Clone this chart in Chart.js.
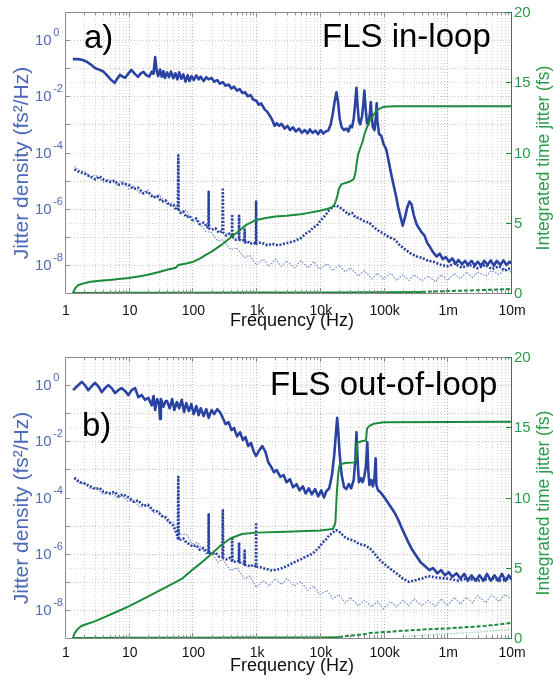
<!DOCTYPE html>
<html><head><meta charset="utf-8">
<script src="https://cdn.jsdelivr.net/npm/chart.js@4.4.1/dist/chart.umd.min.js"></script>
<style>
html,body{margin:0;padding:0;background:#fff;width:553px;height:679px;overflow:hidden}
canvas{position:absolute;left:0}
#ca{top:0}
#cb{top:340px}
</style></head><body>
<canvas id="ca" width="553" height="340"></canvas>
<canvas id="cb" width="553" height="339"></canvas>
<script>
// ---------- axis ticks ----------
const xTickValues = [1, 10, 100, 1e3, 1e4, 1e5, 1e6, 1e7];
const xTickLabels = ['1', '10', '100', '1k', '10k', '100k', '1m', '10m'];
const yTickExponents = [0, -2, -4, -6, -8];
const y2TickValues = [0, 5, 10, 15, 20];

// ---------- panel a) FLS in-loop ----------
const aUpperHz = [1.33,1.6,1.85,2.2,2.6,3.0,3.5,4.0,4.5,5.2,
 6.0,6.6,7.3,8.0,8.8,9.8,11,12.5,14,15.5,
 17,19,21,23,24.5,26,27.5,29,31,33,
 35,37,40,43,46,50,54,58,62,67,
 72,78,84,90,97,105,115,125,135,150,
 165,180,200,220,245,270,300,330,370,410,
 450,500,550,610,670,740,820,900,1000,1100,
 1200,1350,1500,1650,1800,1950,2100,2300,2500,2800,
 3100,3400,3800,4200,4700,5200,5800,6400,7000,7700,
 8500,9400,10300,11300,12300,13500,14800,16000,17000,18200,
 19300,20500,22000,24000,26000,28000,30000,32000,34000,36000,
 37500,39000,41000,43000,46000,48500,50000,52000,55000,58000,
 61000,63000,65000,68000,72000,76000,78000,80000,85000,92000,
 1e5,1.1e5,1.2e5,1.3e5,1.4e5,1.55e5,1.7e5,1.85e5,2e5,2.15e5,
 2.35e5,2.55e5,2.75e5,3e5,3.3e5,3.6e5,4e5,4.4e5,4.8e5,5.3e5,
 6e5,6.8e5,7.6e5,8.5e5,9.5e5,1.06e6,1.2e6,1.35e6,1.5e6,1.7e6,
 1.9e6,2.1e6,2.4e6,2.7e6,3e6,3.4e6,3.8e6,4.3e6,4.8e6,5.4e6,
 6e6,6.8e6,7.6e6,8.5e6,9.5e6,1e7];
const aUpperPsd = [2.1e-1,2.1e-1,2.0e-1,1.7e-1,1.3e-1,1.0e-1,8.7e-2,7.6e-2,5.8e-2,4.0e-2,
 3.0e-2,4.2e-2,5.8e-2,5.0e-2,4.6e-2,6.3e-2,8.7e-2,6.3e-2,4.9e-2,6.6e-2,
 7.4e-2,5.6e-2,5.0e-2,7.6e-2,6.3e-2,2.5e-1,7.9e-2,5.2e-2,8.9e-2,5.0e-2,
 7.9e-2,4.5e-2,7.1e-2,4.8e-2,7.6e-2,4.4e-2,6.6e-2,4.0e-2,7.1e-2,4.2e-2,
 6.0e-2,3.3e-2,5.6e-2,3.5e-2,5.2e-2,3.8e-2,5.6e-2,4.0e-2,5.0e-2,3.5e-2,
 4.8e-2,4.0e-2,4.5e-2,3.3e-2,3.8e-2,2.8e-2,3.2e-2,2.4e-2,2.6e-2,1.9e-2,
 2.2e-2,1.6e-2,1.8e-2,1.3e-2,1.4e-2,1.0e-2,1.1e-2,7.6e-3,7.1e-3,5.0e-3,
 5.6e-3,3.5e-3,2.8e-3,2.0e-3,1.4e-3,8.9e-4,1.1e-3,8.9e-4,1.05e-3,7.1e-4,
 8.9e-4,6.3e-4,7.9e-4,5.6e-4,7.1e-4,5.0e-4,6.3e-4,4.8e-4,6.6e-4,5.0e-4,
 6.0e-4,4.5e-4,6.3e-4,4.7e-4,5.6e-4,6.0e-4,1.0e-3,2.5e-3,6.3e-3,1.4e-2,
 6.3e-3,1.6e-3,7.9e-4,6.3e-4,7.1e-4,5.6e-4,8.9e-4,7.9e-4,1.6e-3,6.3e-3,
 2.0e-2,5.0e-3,1.3e-3,1.0e-3,2.0e-3,6.3e-3,1.6e-2,4.0e-3,1.1e-3,1.0e-3,
 2.5e-3,6.3e-3,2.0e-3,7.9e-4,6.3e-4,2.0e-3,5.6e-3,1.3e-3,4.5e-4,4.0e-4,
 2.0e-4,1.3e-4,5.0e-5,2.0e-5,8.9e-6,3.2e-6,1.1e-6,5.0e-7,2.5e-7,4.5e-7,
 1.1e-6,1.8e-6,1.4e-6,5.6e-7,2.8e-7,2.0e-7,1.4e-7,1.1e-7,6.3e-8,4.5e-8,
 2.8e-8,2.0e-8,2.5e-8,1.6e-8,1.9e-8,1.3e-8,1.7e-8,1.1e-8,1.5e-8,1.05e-8,
 1.4e-8,1.0e-8,1.4e-8,9.5e-9,1.3e-8,9.3e-9,1.4e-8,1.0e-8,1.45e-8,9.5e-9,
 1.4e-8,1.0e-8,1.45e-8,1.0e-8,1.3e-8,1.1e-8];

const aMidHz = [1.4,1.7,2,2.5,3,3.5,4,5,6,7,
 8,10,12,14,17,20,24,28,33,38,
 44,50,56,59,60,61,65,72,80,90,
 100,115,130,150,170,178,180,182,200,230,
 260,295,300,305,340,380,415,420,425,480,
 535,540,545,600,655,660,665,730,800,900,
 990,1000,1010,1200,1500,1800,2200,2700,3300,4000,
 5000,6000,7000,8000,9000,10000,11000,12500,14000,15500,
 17500,19500,22000,25000,28000,32000,36000,42000,50000,60000,
 70000,85000,1e5,1.2e5,1.5e5,1.8e5,2.2e5,2.7e5,3.3e5,4e5,
 5e5,6e5,8e5,1e6,1.3e6,1.7e6,2.2e6,3e6,4e6,5e6,
 6.5e6,8e6,1e7];
const aMidPsd = [2.5e-5,2.0e-5,1.8e-5,1.4e-5,1.1e-5,1.4e-5,1.1e-5,8.9e-6,1.0e-5,7.1e-6,
 7.9e-6,7.1e-6,5.0e-6,5.6e-6,3.5e-6,4.0e-6,2.5e-6,2.8e-6,1.8e-6,2.0e-6,
 1.3e-6,1.4e-6,8.9e-7,1.0e-6,7.9e-5,8.9e-7,7.1e-7,7.9e-7,5.0e-7,5.6e-7,
 4.0e-7,4.5e-7,2.8e-7,3.2e-7,2.2e-7,2.5e-7,4.0e-6,2.0e-7,1.8e-7,2.0e-7,
 1.4e-7,1.6e-7,5.6e-6,1.4e-7,1.1e-7,1.3e-7,1.0e-7,6.3e-7,1.0e-7,7.9e-8,
 8.9e-8,5.6e-7,7.9e-8,7.1e-8,7.9e-8,1.8e-7,6.3e-8,7.1e-8,5.6e-8,6.3e-8,
 5.6e-8,1.8e-6,5.6e-8,6.3e-8,5.0e-8,5.6e-8,5.0e-8,5.6e-8,6.3e-8,7.1e-8,
 8.9e-8,1.3e-7,1.6e-7,2.2e-7,2.5e-7,3.5e-7,4.5e-7,6.3e-7,8.9e-7,1.1e-6,
 1.3e-6,1.2e-6,1.0e-6,7.9e-7,6.3e-7,7.1e-7,5.0e-7,4.5e-7,3.5e-7,3.2e-7,
 2.2e-7,1.6e-7,1.3e-7,1.0e-7,7.9e-8,5.0e-8,3.5e-8,2.5e-8,2.0e-8,1.8e-8,
 1.4e-8,1.3e-8,1.0e-8,8.9e-9,1.1e-8,7.9e-9,1.0e-8,7.6e-9,1.0e-8,7.1e-9,
 8.9e-9,6.3e-9,7.9e-9];

const aFloorHz = [1.4,1.7,2,2.5,3,4,5,6.5,8,10,
 12,15,20,25,30,40,50,65,80,100,
 120,160,200,250,300,400,500,650,800,1000,
 1300,1600,2000,2500,3000,4000,5000,6500,8000,10000,
 13000,16000,20000,25000,30000,40000,50000,65000,80000,1e5,
 1.3e5,1.6e5,2e5,2.5e5,3e5,4e5,5e5,6.5e5,8e5,1e6,
 1.3e6,1.6e6,2e6,2.5e6,3e6,4e6,5e6,6.5e6,8e6,1e7];
const aFloorPsd = [3.2e-5,2.2e-5,2.2e-5,1.3e-5,1.6e-5,8.9e-6,1.1e-5,7.1e-6,1.0e-5,5.0e-6,
 6.3e-6,3.5e-6,4.5e-6,2.5e-6,3.2e-6,1.4e-6,1.6e-6,7.9e-7,8.9e-7,3.5e-7,
 4.0e-7,1.6e-7,1.4e-7,7.1e-8,7.9e-8,3.5e-8,4.0e-8,1.8e-8,2.2e-8,1.0e-8,
 1.6e-8,8.9e-9,1.6e-8,8.9e-9,1.4e-8,7.9e-9,1.4e-8,7.9e-9,1.3e-8,7.1e-9,
 1.1e-8,6.3e-9,1.0e-8,5.6e-9,7.9e-9,4.0e-9,6.3e-9,3.2e-9,5.0e-9,3.2e-9,
 5.0e-9,2.8e-9,4.5e-9,2.8e-9,4.5e-9,2.8e-9,4.0e-9,2.5e-9,4.5e-9,2.8e-9,
 5.0e-9,3.2e-9,5.6e-9,3.5e-9,5.6e-9,4.0e-9,6.3e-9,4.5e-9,7.1e-9,5.6e-9];

const aIntHz = [1.33,1.45,1.6,2,2.5,3.5,5,7,10,15,
 20,30,40,55,60,80,100,130,160,200,
 250,300,400,500,600,700,850,1000,1500,2000,
 3000,5000,7000,10000,13000,15500,17000,18000,19000,20000,
 22000,26000,30000,34000,36000,38000,40000,43000,47000,50000,
 55000,60000,68000,75000,85000,1e5,1.5e5,1e7];
const aIntFs = [0,0.35,0.55,0.7,0.8,0.87,0.93,1.0,1.07,1.2,
 1.3,1.5,1.65,1.8,2.0,2.1,2.2,2.45,2.7,2.95,
 3.25,3.5,3.95,4.3,4.6,4.85,5.05,5.2,5.35,5.45,
 5.5,5.6,5.72,5.85,5.98,6.1,6.3,6.6,7.0,7.45,
 7.75,7.85,7.95,8.1,8.5,9.3,9.9,10.3,10.8,11.3,
 11.8,12.25,12.6,12.9,13.1,13.25,13.3,13.3];

const aLowHz = [1.33,10,100,1000,1e4,1e5,4e5];
const aLowFs = [0,0.01,0.02,0.03,0.04,0.06,0.08];
const aLowDashHz = [4e5,1e6,3e6,1e7];
const aLowDashFs = [0.08,0.14,0.2,0.28];

// ---------- panel b) FLS out-of-loop ----------
const bUpperHz = [1.34,1.55,1.83,2.06,2.32,2.62,2.96,3.33,3.77,4.25,
 4.78,5.41,6.1,6.87,7.76,8.75,9.87,11.1,12.6,14.2,
 16,18,20.3,23,24.5,26,28,30,31,32,
 35,38,40,44,48,52,57,62,68,74,
 80,88,96,105,115,125,135,150,165,180,
 200,220,245,270,300,330,370,410,450,500,
 560,620,680,750,830,920,1000,1100,1250,1400,
 1550,1700,1900,2100,2400,2700,3000,3400,3800,4300,
 4800,5400,6000,6700,7500,8400,9400,10500,11600,12700,
 14000,15500,16800,17800,18700,19500,20500,22000,24000,26000,
 28500,31000,34000,36000,37500,39000,41000,44000,47000,50000,
 53000,55500,57500,60000,64000,68000,72000,75000,77000,82000,
 90000,1e5,1.15e5,1.3e5,1.5e5,1.7e5,1.9e5,2.1e5,2.4e5,2.8e5,
 3.3e5,3.8e5,4.5e5,5.2e5,6e5,7e5,8e5,9.2e5,1.05e6,1.2e6,
 1.4e6,1.6e6,1.85e6,2.1e6,2.4e6,2.8e6,3.2e6,3.7e6,4.2e6,4.8e6,
 5.5e6,6.3e6,7.2e6,8.2e6,9.2e6,1e7];
const bUpperPsd = [6.6e-1,9.1e-1,1.3,1.0,6.6e-1,9.1e-1,1.2,9.1e-1,5.6e-1,7.8e-1,
 1.0,7.8e-1,5.2e-1,6.6e-1,7.8e-1,6.2e-1,4.4e-1,6.6e-1,7.8e-1,3.7e-1,
 4.4e-1,3.0e-1,3.5e-1,1.9e-1,4.1e-1,1.3e-1,3.2e-1,2.1e-1,6.3e-2,3.2e-1,
 1.7e-1,2.7e-1,2.7e-1,1.5e-1,3.2e-1,1.3e-1,2.5e-1,1.5e-1,3.0e-1,1.1e-1,
 2.3e-1,1.2e-1,2.1e-1,9.3e-2,1.8e-1,8.5e-2,1.5e-1,7.9e-2,1.4e-1,6.8e-2,
 1.3e-1,9.3e-2,1.4e-1,1.1e-1,6.8e-2,4.1e-2,4.8e-2,2.5e-2,3.0e-2,1.5e-2,
 2.1e-2,1.1e-2,1.4e-2,6.8e-3,8.7e-3,4.2e-3,3.0e-3,4.5e-3,6.8e-3,4.2e-3,
 1.8e-3,1.3e-3,7.9e-4,9.5e-4,5.4e-4,6.3e-4,3.5e-4,4.5e-4,2.3e-4,3.0e-4,
 1.8e-4,2.5e-4,1.4e-4,2.1e-4,1.3e-4,2.0e-4,1.1e-4,1.8e-4,1.0e-4,1.7e-4,
 2.1e-4,6.3e-4,3.2e-3,1.7e-2,6.8e-2,2.1e-2,3.2e-3,6.3e-4,2.3e-4,2.0e-4,
 3.0e-4,2.1e-4,4.2e-4,2.1e-3,2.1e-2,2.5e-3,3.5e-4,4.9e-4,3.5e-4,5.8e-4,
 1.4e-3,9.3e-3,9.5e-4,2.8e-4,4.2e-4,2.5e-4,4.9e-4,2.5e-3,2.8e-4,1.8e-4,
 1.5e-4,1.1e-4,6.9e-5,4.6e-5,2.8e-5,1.6e-5,8.9e-6,5.4e-6,2.8e-6,1.4e-6,
 8.1e-7,5.0e-7,3.6e-7,2.6e-7,3.1e-7,2.0e-7,2.6e-7,1.7e-7,2.2e-7,1.5e-7,
 2.0e-7,1.3e-7,1.9e-7,1.1e-7,1.7e-7,1.1e-7,1.7e-7,1.1e-7,1.9e-7,1.1e-7,
 1.7e-7,1.1e-7,1.9e-7,1.1e-7,1.7e-7,1.3e-7];

const bMidHz = [1.4,1.7,2,2.5,3,3.5,4,5,6,7,
 8,10,12,14,17,20,24,28,33,38,
 44,50,56,59,60,61,66,72,80,90,
 100,115,130,150,170,178,180,182,200,230,
 260,295,300,305,340,380,415,420,425,480,
 535,540,545,600,655,660,665,730,800,900,
 990,1000,1010,1200,1500,1800,2200,2700,3300,4000,
 5000,6000,7000,8000,9000,10000,11000,12500,14000,16000,
 18000,20000,23000,26000,30000,35000,42000,50000,60000,70000,
 85000,1e5,1.3e5,1.7e5,2e5,2.5e5,3e5,4e5,5e5,7e5,
 1e6,1.5e6,2e6,3e6,5e6,7e6,1e7];
const bMidPsd = [5.0e-4,3.5e-4,3.2e-4,2.5e-4,2.0e-4,2.2e-4,1.6e-4,1.4e-4,1.6e-4,1.1e-4,
 1.3e-4,1.0e-4,7.1e-5,7.9e-5,5.0e-5,5.6e-5,3.5e-5,3.2e-5,2.2e-5,2.0e-5,
 1.3e-5,1.0e-5,5.6e-6,3.5e-6,5.5e-4,3.2e-6,3.2e-6,3.5e-6,2.5e-6,2.2e-6,
 1.8e-6,2.0e-6,1.4e-6,1.6e-6,1.1e-6,1.1e-6,2.5e-5,1.0e-6,1.0e-6,1.1e-6,
 7.9e-7,7.9e-7,3.5e-5,7.1e-7,6.3e-7,7.1e-7,5.6e-7,4.0e-6,5.6e-7,5.0e-7,
 5.6e-7,2.5e-6,5.0e-7,4.5e-7,4.5e-7,1.3e-6,4.0e-7,4.0e-7,3.5e-7,4.0e-7,
 3.5e-7,1.3e-5,3.5e-7,3.2e-7,2.8e-7,2.5e-7,2.8e-7,3.2e-7,4.0e-7,5.0e-7,
 6.3e-7,7.9e-7,8.9e-7,1.1e-6,1.4e-6,1.8e-6,2.5e-6,3.2e-6,4.5e-6,5.6e-6,
 6.9e-6,6.3e-6,4.5e-6,3.5e-6,3.2e-6,2.8e-6,2.2e-6,2.0e-6,1.6e-6,1.1e-6,
 6.3e-7,4.5e-7,2.8e-7,1.8e-7,1.3e-7,1.0e-7,1.1e-7,1.3e-7,1.6e-7,1.4e-7,
 1.3e-7,1.1e-7,1.3e-7,1.1e-7,1.3e-7,1.1e-7,1.3e-7];

const bFloorHz = [1.4,1.7,2,2.5,3,4,5,6.5,8,10,
 12,15,20,25,30,40,50,65,80,100,
 120,160,200,250,300,400,500,650,800,1000,
 1300,1600,2000,2500,3000,4000,5000,6500,8000,10000,
 13000,16000,20000,25000,30000,40000,50000,65000,80000,1e5,
 1.3e5,1.6e5,2e5,2.5e5,3e5,4e5,5e5,6.5e5,8e5,1e6,
 1.3e6,1.6e6,2e6,2.5e6,3e6,4e6,5e6,6.5e6,8e6,1e7];
const bFloorPsd = [4.5e-4,3.2e-4,3.2e-4,2.0e-4,2.2e-4,1.3e-4,1.6e-4,1.0e-4,1.1e-4,7.1e-5,
 7.9e-5,4.5e-5,5.0e-5,2.8e-5,3.2e-5,1.4e-5,1.3e-5,5.0e-6,5.0e-6,2.2e-6,
 2.5e-6,1.0e-6,1.1e-6,5.0e-7,6.3e-7,2.5e-7,3.2e-7,1.3e-7,1.6e-7,6.3e-8,
 1.1e-7,7.1e-8,1.3e-7,7.9e-8,1.3e-7,7.1e-8,1.0e-7,5.0e-8,7.1e-8,3.5e-8,
 5.0e-8,2.5e-8,3.5e-8,1.8e-8,2.8e-8,1.4e-8,2.2e-8,1.3e-8,2.0e-8,1.1e-8,
 2.0e-8,1.3e-8,2.2e-8,1.4e-8,2.5e-8,1.4e-8,2.2e-8,1.3e-8,2.5e-8,1.4e-8,
 2.8e-8,1.6e-8,2.8e-8,1.8e-8,3.2e-8,1.8e-8,3.5e-8,2.0e-8,3.5e-8,2.5e-8];

const bIntHz = [1.33,1.4,1.55,1.8,2.2,2.8,4,6,10,20,
 40,70,100,150,200,280,400,600,1000,3000,
 10000,16000,17500,18500,19500,20500,25000,35000,37000,38500,
 45000,53000,55000,60000,70000,1e5,1e7];
const bIntFs = [0,0.3,0.6,0.85,1.0,1.15,1.45,1.8,2.25,2.95,
 3.65,4.25,4.85,5.5,6.0,6.6,7.1,7.4,7.5,7.57,
 7.65,7.75,8.2,10.4,11.8,12.35,12.45,12.5,12.8,13.9,
 14.0,14.05,14.9,15.1,15.25,15.35,15.4];

const bLowHz = [1.33,10,100,1000,1e4,2e4];
const bLowFs = [0,0.01,0.02,0.03,0.04,0.06];
const bLowDashHz = [2e4,2.6e4,4.6e4,6e4,1.6e5,4e5,1e6,4e6,1e7];
const bLowDashFs = [0.06,0.14,0.24,0.35,0.48,0.6,0.68,0.86,1.07];
const bLowDotHz = [2e5,1e6,3e6,1e7];
const bLowDotFs = [0.1,0.3,0.42,0.62];

// ---------- styling ----------
const BLUE = '#2a43a2';
const BLUE_LIGHT = '#7e92d0';
const GREEN = '#1c8a3c';
const GREEN_TXT = '#2b9a4b';
const BLUE_TXT = '#4d69ba';
const FONT = '"Liberation Sans", Arial, Helvetica, sans-serif';

function pts(xs, ys) { return xs.map((x, i) => ({ x: x, y: ys[i] })); }

const decoPlugin = {
  id: 'deco',
  beforeDatasetsDraw(chart, args, o) {
    const { ctx, chartArea: a, scales: { x, y, y2 } } = chart;
    ctx.save();
    ctx.beginPath(); ctx.rect(a.left, a.top, a.right - a.left, a.bottom - a.top); ctx.clip();
    ctx.lineWidth = 1;
    ctx.setLineDash([1, 2]);
    const vline = (px, c) => { ctx.strokeStyle = c; ctx.beginPath(); ctx.moveTo(px, a.top); ctx.lineTo(px, a.bottom); ctx.stroke(); };
    const hline = (py, c) => { ctx.strokeStyle = c; ctx.beginPath(); ctx.moveTo(a.left, py); ctx.lineTo(a.right, py); ctx.stroke(); };
    for (let e = 0; e < 7; e++) {
      for (let m = 1; m <= 9; m++) {
        const v = m * Math.pow(10, e);
        if (v <= 1) continue;
        vline(Math.round(x.getPixelForValue(v)) + 0.5, m === 1 ? '#b4b4b4' : '#d2d2d2');
      }
    }
    for (let e = -8; e <= 0; e++) hline(Math.round(y.getPixelForValue(Math.pow(10, e))) + 0.5, '#c6c6c6');
    [5, 10, 15].forEach(v => hline(Math.round(y2.getPixelForValue(v)) + 0.5, '#d4d4d4'));
    ctx.restore();
  },
  afterDatasetsDraw(chart, args, o) {
    const { ctx, chartArea: a, scales: { x, y, y2 } } = chart;
    ctx.save();
    ctx.setLineDash([]);
    ctx.lineWidth = 1;
    // frame
    ctx.strokeStyle = '#8a8a8a';
    ctx.beginPath();
    ctx.moveTo(a.right, a.top + 0.5); ctx.lineTo(a.left + 0.5, a.top + 0.5);
    ctx.lineTo(a.left + 0.5, a.bottom + 0.5); ctx.lineTo(a.right, a.bottom + 0.5);
    ctx.stroke();
    ctx.strokeStyle = GREEN;
    ctx.beginPath(); ctx.moveTo(a.right + 0.5, a.top); ctx.lineTo(a.right + 0.5, a.bottom + 1); ctx.stroke();
    // inward ticks on top / bottom
    ctx.strokeStyle = '#8a8a8a';
    for (let e = 0; e < 7; e++) {
      for (let m = 1; m <= 9; m++) {
        const v = m * Math.pow(10, e);
        if (v <= 1) continue;
        const px = Math.round(x.getPixelForValue(v)) + 0.5;
        const len = m === 1 ? 5 : 3;
        ctx.beginPath();
        ctx.moveTo(px, a.top); ctx.lineTo(px, a.top + len);
        ctx.moveTo(px, a.bottom); ctx.lineTo(px, a.bottom - len);
        ctx.stroke();
      }
    }
    for (let e = -8; e <= 0; e++) {
      const py = Math.round(y.getPixelForValue(Math.pow(10, e))) + 0.5;
      ctx.beginPath(); ctx.moveTo(a.left, py); ctx.lineTo(a.left + 5, py); ctx.stroke();
    }
    ctx.strokeStyle = GREEN;
    y2TickValues.forEach(v => {
      const py = Math.round(y2.getPixelForValue(v)) + 0.5;
      ctx.beginPath(); ctx.moveTo(a.right, py); ctx.lineTo(a.right - 5, py); ctx.stroke();
    });

    // x tick labels
    ctx.fillStyle = '#111';
    ctx.font = '14px ' + FONT;
    ctx.textAlign = 'center';
    ctx.textBaseline = 'alphabetic';
    xTickValues.forEach((v, i) => {
      ctx.fillText(xTickLabels[i], x.getPixelForValue(v) + 1, a.bottom + o.xTickDy);
    });
    // x title
    ctx.font = '18px ' + FONT;
    ctx.fillText('Frequency (Hz)', (a.left + a.right) / 2 + 4, a.bottom + o.xTitleDy);

    // left tick labels 10^e
    ctx.fillStyle = BLUE_TXT;
    ctx.textAlign = 'left';
    yTickExponents.forEach(e => {
      const py = y.getPixelForValue(Math.pow(10, e));
      ctx.font = '15px ' + FONT;
      ctx.textBaseline = 'middle';
      ctx.fillText('10', 35, py + 1);
      const w = ctx.measureText('10').width;
      ctx.font = '11px ' + FONT;
      ctx.fillText(e === 0 ? '0' : '-' + Math.abs(e), 35 + w + 1.5, py - 7);
    });
    // right tick labels
    ctx.fillStyle = GREEN_TXT;
    ctx.font = '15px ' + FONT;
    ctx.textBaseline = 'middle';
    y2TickValues.forEach(v => {
      ctx.fillText(String(v), a.right + 3, y2.getPixelForValue(v) + 1);
    });

    // axis titles
    ctx.textAlign = 'center';
    ctx.textBaseline = 'middle';
    ctx.save();
    ctx.font = '21px ' + FONT;
    ctx.translate(22, a.top + 151); ctx.rotate(-Math.PI / 2);
    ctx.fillStyle = BLUE_TXT;
    ctx.fillText('Jitter density (fs\u00B2/Hz)', 0, 0);
    ctx.restore();
    ctx.save();
    ctx.font = '17.5px ' + FONT;
    ctx.translate(544, a.top + 146); ctx.rotate(-Math.PI / 2);
    ctx.fillStyle = GREEN_TXT;
    ctx.fillText('Integrated time jitter (fs)', 0, 0);
    ctx.restore();

    // panel annotations
    ctx.fillStyle = '#000';
    ctx.textAlign = 'left';
    ctx.textBaseline = 'alphabetic';
    ctx.font = '33px ' + FONT;
    ctx.fillText(o.letter, o.letterX, o.letterY);
    ctx.fillText(o.title, o.titleX, o.titleY);
    ctx.restore();
  }
};

function makePanel(id, P) {
  const datasets = [
    { data: pts(P.intHz, P.intFs), yAxisID: 'y2', borderColor: GREEN, borderWidth: 2, order: 0 },
    { data: pts(P.lowHz, P.lowFs), yAxisID: 'y2', borderColor: GREEN, borderWidth: 2, order: 1 },
    { data: pts(P.lowDashHz, P.lowDashFs), yAxisID: 'y2', borderColor: GREEN, borderWidth: 2, borderDash: [4, 2], order: 1 },
    { data: pts(P.upHz, P.upPsd), yAxisID: 'y', borderColor: BLUE, borderWidth: 2.6, order: 3 },
    { data: pts(P.midHz, P.midPsd), yAxisID: 'y', borderColor: BLUE, borderWidth: 2.6, borderDash: [2, 1.6], order: 4 },
    { data: pts(P.floorHz, P.floorPsd), yAxisID: 'y', borderColor: BLUE_LIGHT, borderWidth: 1.3, borderDash: [1.5, 1.5], order: 5 }
  ];
  if (P.lowDotHz) {
    datasets.push({ data: pts(P.lowDotHz, P.lowDotFs), yAxisID: 'y2', borderColor: '#6cbf80', borderWidth: 1.3, borderDash: [1, 2], order: 2 });
  }
  return new Chart(document.getElementById(id), {
    type: 'line',
    data: { datasets: datasets },
    options: {
      responsive: false,
      animation: false,
      devicePixelRatio: 1,
      layout: { padding: { top: P.top, left: 0, right: 0, bottom: 0 } },
      elements: { point: { radius: 0 }, line: { tension: 0, fill: false, borderCapStyle: 'butt', borderJoinStyle: 'round' } },
      plugins: {
        legend: { display: false },
        tooltip: { enabled: false },
        deco: P.deco
      },
      scales: {
        x: {
          type: 'logarithmic', min: 1, max: 1e7, position: 'bottom',
          grid: { display: false }, border: { display: false }, ticks: { display: false },
          afterFit: s => { s.height = P.xh; }
        },
        y: {
          type: 'logarithmic', min: 1e-9, max: 10, position: 'left',
          grid: { display: false }, border: { display: false }, ticks: { display: false },
          afterFit: s => { s.width = 65; }
        },
        y2: {
          type: 'linear', min: 0, max: 20, position: 'right',
          grid: { display: false }, border: { display: false }, ticks: { display: false },
          afterFit: s => { s.width = 42; }
        }
      }
    },
    plugins: [decoPlugin]
  });
}

makePanel('ca', {
  top: 12, xh: 47,
  upHz: aUpperHz, upPsd: aUpperPsd, midHz: aMidHz, midPsd: aMidPsd,
  floorHz: aFloorHz, floorPsd: aFloorPsd, intHz: aIntHz, intFs: aIntFs,
  lowHz: aLowHz, lowFs: aLowFs, lowDashHz: aLowDashHz, lowDashFs: aLowDashFs,
  deco: { letter: 'a)', letterX: 84, letterY: 48, title: 'FLS in-loop', titleX: 322, titleY: 47, xTickDy: 22, xTitleDy: 33 }
});
makePanel('cb', {
  top: 17, xh: 41,
  upHz: bUpperHz, upPsd: bUpperPsd, midHz: bMidHz, midPsd: bMidPsd,
  floorHz: bFloorHz, floorPsd: bFloorPsd, intHz: bIntHz, intFs: bIntFs,
  lowHz: bLowHz, lowFs: bLowFs, lowDashHz: bLowDashHz, lowDashFs: bLowDashFs,
  lowDotHz: bLowDotHz, lowDotFs: bLowDotFs,
  deco: { letter: 'b)', letterX: 82, letterY: 96, title: 'FLS out-of-loop', titleX: 270, titleY: 55, xTickDy: 19, xTitleDy: 33 }
});
</script>
</body></html>
